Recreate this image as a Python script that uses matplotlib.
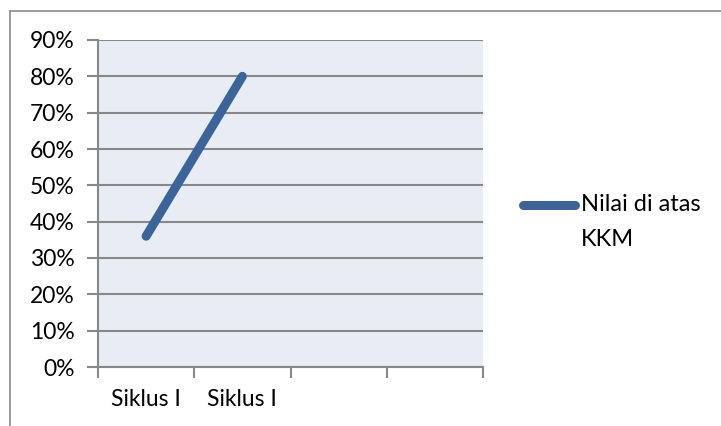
import matplotlib.pyplot as plt
from matplotlib.lines import Line2D
from matplotlib.ticker import PercentFormatter

plt.rcParams["font.family"] = ["Lato", "DejaVu Sans"]

categories = ["Siklus I", "Siklus I", "", ""]
values = [0.36, 0.80]
series_name = ["Nilai di atas", "KKM"]

W, H = 721, 426
fig = plt.figure(figsize=(W / 100, H / 100), dpi=100)

# outer chart frame (left and top only visible)
fig.add_artist(Line2D([9.5 / W, 9.5 / W], [0, 1 - 11 / H], color="#8c8c8c", lw=1.2))
fig.add_artist(Line2D([9.5 / W, 1], [1 - 11 / H, 1 - 11 / H], color="#8c8c8c", lw=1.2))

ax = fig.add_axes([98 / W, 1 - 367 / H, (483 - 98) / W, (367 - 40) / H])
ax.set_facecolor("#e8ecf4")

x = list(range(len(values)))
ax.plot(x, values, color="#3c6499", lw=6.5, solid_capstyle="round", zorder=3)

ax.set_xlim(-0.5, len(categories) - 0.5)
ax.set_ylim(0, 0.9)
ax.set_yticks([i / 10 for i in range(10)])
ax.yaxis.set_major_formatter(PercentFormatter(1.0, decimals=0))
ax.grid(axis="y", color="#888888", lw=1.5, zorder=1)

# category boundary ticks, labels in the middle of each slot
ax.set_xticks([i - 0.5 for i in range(len(categories) + 1)])
ax.set_xticklabels([])
ax.set_xticks(range(len(categories)), minor=True)
ax.set_xticklabels(categories, minor=True, fontsize=16.5)
ax.tick_params(axis="x", which="major", length=8, width=1.5, color="#888888")
ax.tick_params(axis="x", which="minor", length=0, pad=16)
ax.tick_params(axis="y", length=8, width=1.5, color="#888888", labelsize=16.5, pad=9)

for s in ["top", "right"]:
    ax.spines[s].set_visible(False)
for s in ["left", "bottom"]:
    ax.spines[s].set_color("#888888")
    ax.spines[s].set_linewidth(1.5)

# legend
ly = 1 - 205 / H
fig.add_artist(Line2D([523 / W, 575 / W], [ly, ly], color="#3c6499", lw=6.5,
                      solid_capstyle="round"))
fig.text(581 / W, ly, series_name[0], fontsize=17, va="center", ha="left")
fig.text(581 / W, 1 - 240 / H, series_name[1], fontsize=17, va="center", ha="left")

fig.savefig("out.png", dpi=100)
